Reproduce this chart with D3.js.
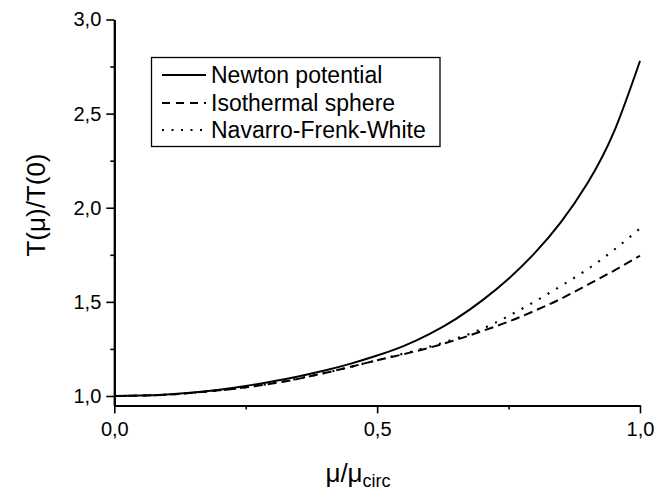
<!DOCTYPE html>
<html>
<head>
<meta charset="utf-8">
<script src="https://cdn.jsdelivr.net/npm/d3@7"></script>
<style>
  html, body { margin: 0; padding: 0; background: #fff; }
  svg { display: block; font-family: "Liberation Sans", Arial, sans-serif; }
</style>
</head>
<body>
<svg id="chart" width="670" height="492"></svg>
<script>
// ---- data ----
const mu = [0, 0.05, 0.1, 0.15, 0.2, 0.25, 0.3, 0.35, 0.4, 0.45, 0.5, 0.55, 0.6, 0.65, 0.7, 0.75, 0.8, 0.85, 0.9, 0.95, 1.0];
const newton = [1.0, 1.002, 1.008, 1.018, 1.033, 1.053, 1.077, 1.104, 1.135, 1.172, 1.215, 1.265, 1.33, 1.41, 1.508, 1.623, 1.76, 1.925, 2.13, 2.40, 2.78];
const isothermal = [1.0, 1.002, 1.007, 1.017, 1.03, 1.046, 1.066, 1.091, 1.122, 1.155, 1.19, 1.222, 1.257, 1.298, 1.345, 1.395, 1.453, 1.517, 1.59, 1.665, 1.745];
const nfw = [1.0, 1.002, 1.007, 1.017, 1.03, 1.046, 1.067, 1.093, 1.122, 1.155, 1.19, 1.225, 1.262, 1.305, 1.357, 1.425, 1.502, 1.585, 1.673, 1.775, 1.89];
const seriesNames = ["Newton potential", "Isothermal sphere", "Navarro-Frenk-White"];
const xMajorTicks = [0, 0.5, 1.0];
const xMinorTicks = [0.25, 0.75];
const yMajorTicks = [1.0, 1.5, 2.0, 2.5, 3.0];
const yMinorTicks = [1.25, 1.75, 2.25, 2.75];

const svg = d3.select("#chart");
const x = d3.scaleLinear().domain([0, 1]).range([114.3, 640]);
const y = d3.scaleLinear().domain([0.95, 3.0]).range([405.4, 19.5]);
const fmt = d => d.toFixed(1).replace(".", ",");

// axes
function styleAxis(g) {
  g.select(".domain").attr("stroke", "#000").attr("stroke-width", 2);
  g.selectAll(".tick line").attr("stroke", "#000").attr("stroke-width", 1.6);
  g.selectAll(".tick text").attr("fill", "#000").attr("font-size", 20)
    .attr("font-family", "Liberation Sans, Arial, sans-serif");
}
const gx = svg.append("g").attr("transform", `translate(0,${y(0.95)})`)
  .call(d3.axisBottom(x).tickValues(xMajorTicks).tickFormat(fmt).tickSize(8).tickSizeOuter(0).tickPadding(8));
styleAxis(gx);
const gxm = svg.append("g").attr("transform", `translate(0,${y(0.95)})`)
  .call(d3.axisBottom(x).tickValues(xMinorTicks).tickFormat("").tickSize(4).tickSizeOuter(0));
styleAxis(gxm);
const gy = svg.append("g").attr("transform", `translate(${x(0)},0)`)
  .call(d3.axisLeft(y).tickValues(yMajorTicks).tickFormat(fmt).tickSize(8).tickSizeOuter(0).tickPadding(5));
styleAxis(gy);
const gym = svg.append("g").attr("transform", `translate(${x(0)},0)`)
  .call(d3.axisLeft(y).tickValues(yMinorTicks).tickFormat("").tickSize(4).tickSizeOuter(0));
styleAxis(gym);

// lines
const styles = [
  { dash: null, width: 2 },
  { dash: "9,5", width: 2 },
  { dash: "2,8", width: 2.2 }
];
const allSeries = [newton, isothermal, nfw];
const line = d3.line().x(d => x(d[0])).y(d => y(d[1])).curve(d3.curveNatural);
allSeries.forEach((s, i) => {
  svg.append("path")
    .datum(mu.map((m, j) => [m, s[j]]))
    .attr("d", line)
    .attr("fill", "none")
    .attr("stroke", "#000")
    .attr("stroke-width", styles[i].width)
    .attr("stroke-dasharray", styles[i].dash);
});

// legend
const leg = svg.append("g");
leg.append("rect").attr("x", 151.5).attr("y", 57.5).attr("width", 288.5).attr("height", 89)
  .attr("fill", "#fff").attr("stroke", "#000").attr("stroke-width", 1.3);
const rowY = [75, 103, 130];
const legDash = [null, "8,6", "2,7.5"];
seriesNames.forEach((name, i) => {
  leg.append("line").attr("x1", 162).attr("x2", 206).attr("y1", rowY[i]).attr("y2", rowY[i])
    .attr("stroke", "#000").attr("stroke-width", 2).attr("stroke-dasharray", legDash[i]);
  leg.append("text").attr("x", 211).attr("y", rowY[i] + 7.5).attr("font-size", 23)
    .attr("fill", "#000").text(name);
});

// axis titles
svg.append("text").attr("transform", "translate(45,205) rotate(-90)")
  .attr("text-anchor", "middle").attr("font-size", 26).attr("fill", "#000")
  .text("T(μ)/T(0)");
const xt = svg.append("text").attr("x", 358).attr("y", 482).attr("text-anchor", "middle")
  .attr("font-size", 26).attr("fill", "#000");
xt.append("tspan").text("μ/μ");
xt.append("tspan").attr("font-size", 18).attr("dy", 5).text("circ");
</script>
</body>
</html>
